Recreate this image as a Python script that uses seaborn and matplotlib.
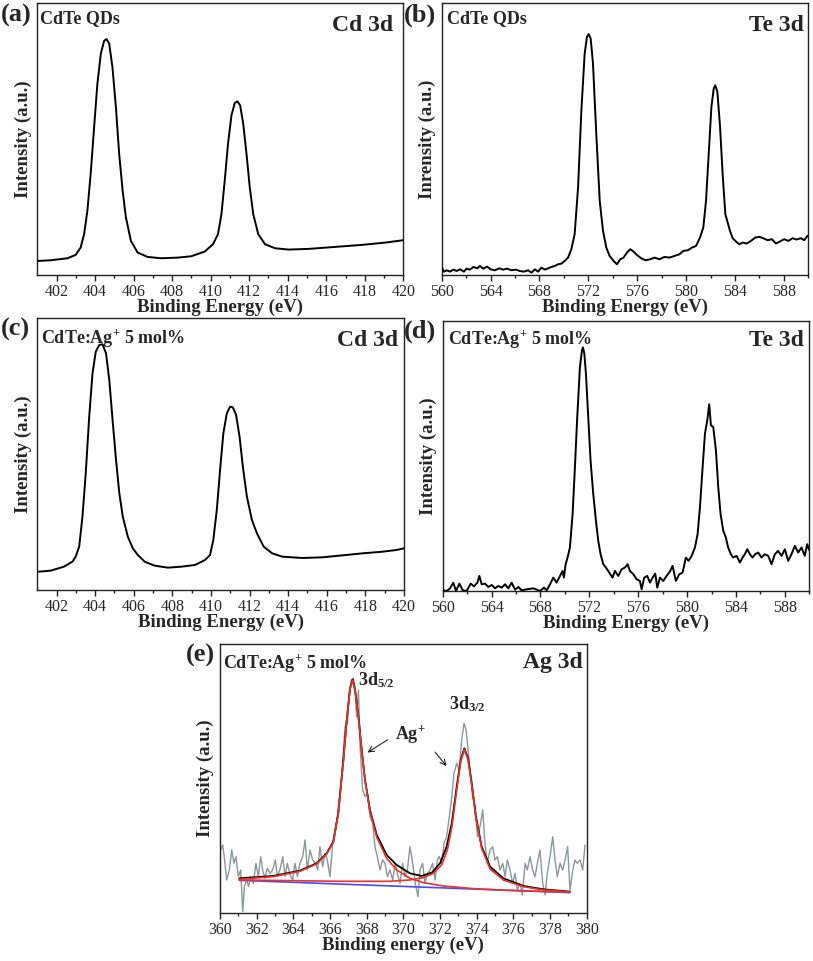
import numpy as np
import pandas as pd
import matplotlib
matplotlib.use("Agg")
import matplotlib.pyplot as plt
import seaborn as sns

# ---------------- data ----------------
# (a) CdTe QDs, Cd 3d
a_x = [401.03, 401.69, 402.56, 402.99, 403.25, 403.43, 403.60, 403.77, 403.95, 404.12,
       404.30, 404.47, 404.59, 404.73, 404.90, 405.08, 405.25, 405.43, 405.60, 405.86,
       406.21, 406.73, 407.43, 408.30, 408.99, 409.69, 410.12, 410.38, 410.56, 410.73,
       410.90, 411.08, 411.25, 411.39, 411.53, 411.69, 411.86, 412.03, 412.21, 412.47,
       412.82, 413.34, 414.03, 415.08, 416.47, 417.86, 419.08, 420.0]
a_y = [42, 44, 50, 60, 82, 122, 192, 302, 442, 572,
       662, 700, 705, 692, 622, 502, 362, 252, 172, 102,
       67, 54, 50, 52, 56, 70, 92, 122, 182, 282,
       392, 477, 514, 519, 507, 452, 362, 262, 182, 122,
       92, 80, 76, 78, 84, 90, 97, 104]

# (b) CdTe QDs, Te 3d
b_x = [560.00, 560.19, 560.41, 560.68, 560.95, 561.22, 561.50, 561.82, 562.04, 562.31,
       562.59, 562.91, 563.13, 563.40, 563.73, 564.00, 564.35, 564.71, 565.03, 565.36,
       565.71, 566.07, 566.39, 566.72, 567.07, 567.35, 567.62, 567.89, 568.16, 568.44,
       568.71, 568.98, 569.25, 569.52, 569.80, 570.07, 570.34, 570.61, 570.88, 571.16,
       571.43, 571.70, 571.89, 572.03, 572.19, 572.38, 572.65, 572.93, 573.20, 573.47,
       573.74, 574.07, 574.34, 574.61, 574.88, 575.16, 575.43, 575.70, 575.97, 576.33,
       576.68, 577.06, 577.41, 577.82, 578.23, 578.64, 579.05, 579.46, 579.78, 580.14,
       580.49, 580.82, 581.14, 581.41, 581.63, 581.85, 582.07, 582.26, 582.39, 582.56,
       582.78, 582.99, 583.21, 583.40, 583.59, 583.81, 584.08, 584.35, 584.63, 584.95,
       585.31, 585.66, 585.99, 586.31, 586.67, 587.02, 587.35, 587.67, 588.03, 588.38,
       588.71, 589.03, 589.39, 589.66, 589.93]
b_y = [22, 10, 14, 10, 16, 12, 17, 10, 19, 16,
       24, 20, 27, 19, 25, 17, 14, 20, 16, 19,
       14, 16, 12, 10, 14, 7, 17, 10, 22, 16,
       20, 24, 27, 32, 34, 42, 52, 77, 122, 262,
       492, 662, 712, 720, 707, 632, 422, 222, 132, 82,
       57, 42, 32, 47, 52, 67, 77, 70, 60, 50,
       44, 47, 52, 47, 54, 52, 57, 62, 72, 74,
       82, 87, 112, 142, 222, 362, 502, 557, 567, 547,
       442, 302, 182, 157, 132, 110, 100, 92, 97, 94,
       102, 112, 114, 110, 104, 107, 94, 100, 107, 102,
       110, 106, 110, 104, 117]

# (c) CdTe:Ag+ 5 mol%, Cd 3d
c_x = [401.08, 401.69, 402.38, 402.82, 402.99, 403.17, 403.34, 403.51, 403.69, 403.86,
       404.03, 404.21, 404.38, 404.56, 404.73, 404.90, 405.08, 405.25, 405.43, 405.69,
       405.95, 406.21, 406.56, 407.08, 407.77, 408.47, 409.17, 409.69, 409.95, 410.12,
       410.30, 410.47, 410.64, 410.82, 410.99, 411.13, 411.30, 411.48, 411.65, 411.86,
       412.12, 412.38, 412.73, 413.17, 413.69, 414.73, 415.77, 416.82, 417.86, 418.90,
       419.60, 420.0]
c_y = [55, 58, 70, 85, 100, 130, 220, 350, 520, 650,
       715, 735, 737, 710, 630, 510, 390, 290, 220, 160,
       125, 105, 85, 73, 67, 70, 75, 90, 105, 150,
       240, 360, 470, 530, 550, 548, 525, 460, 370, 280,
       210, 170, 130, 110, 100, 96, 98, 104, 110, 115,
       120, 125]

# (d) CdTe:Ag+ 5 mol%, Te 3d
d_x = [560.05, 560.33, 560.60, 560.87, 561.09, 561.36, 561.64, 561.96, 562.29, 562.56,
       562.84, 563.00, 563.19, 563.46, 563.74, 564.01, 564.28, 564.55, 564.83, 565.10,
       565.37, 565.64, 565.92, 566.19, 566.46, 566.87, 567.42, 567.96, 568.29, 568.51,
       568.78, 569.05, 569.32, 569.60, 569.81, 569.92, 570.06, 570.22, 570.41, 570.63,
       570.82, 571.01, 571.23, 571.40, 571.48, 571.59, 571.72, 571.91, 572.10, 572.32,
       572.54, 572.73, 572.92, 573.14, 573.36, 573.63, 573.90, 574.09, 574.37, 574.64,
       574.91, 575.13, 575.32, 575.60, 575.87, 576.14, 576.28, 576.49, 576.74, 576.96,
       577.18, 577.39, 577.56, 577.78, 578.05, 578.32, 578.59, 578.81, 579.08, 579.36,
       579.63, 579.90, 580.12, 580.37, 580.64, 580.86, 581.05, 581.27, 581.46, 581.65,
       581.81, 581.95, 582.14, 582.36, 582.55, 582.74, 582.96, 583.17, 583.36, 583.58,
       583.77, 584.05, 584.32, 584.54, 584.73, 584.92, 585.14, 585.35, 585.57, 585.82,
       586.09, 586.36, 586.64, 586.91, 587.18, 587.45, 587.73, 588.00, 588.27, 588.54,
       588.82, 589.09, 589.36, 589.63, 589.83, 590.0]
d_y = [2, 0, 8, 25, 0, 22, 2, 0, 22, 14,
       25, 45, 20, 22, 12, 18, 8, 15, 10, 20,
       8, 25, 4, 12, 2, 5, 8, 0, 10, 2,
       20, 40, 25, 45, 60, 40, 80, 100, 130, 230,
       370, 520, 670, 720, 728, 710, 650, 520, 390, 290,
       210, 150, 110, 80, 70, 55, 40, 60, 45, 65,
       70, 80, 60, 50, 35, 30, 5, 40, 45, 25,
       40, 52, 10, 40, 30, 45, 58, 75, 30, 50,
       55, 100, 90, 105, 130, 170, 250, 370, 470, 510,
       558, 495, 490, 420, 310, 230, 180, 160, 130, 110,
       100, 105, 85, 100, 110, 125, 110, 100, 110, 115,
       100, 110, 105, 80, 110, 120, 105, 125, 90, 110,
       135, 115, 130, 105, 140, 122]

# (e) CdTe:Ag+ 5 mol%, Ag 3d : raw data
e_x = [360.04, 360.15, 360.27, 360.36, 360.51, 360.64, 360.76, 360.87, 361.00, 361.13,
       361.24, 361.33, 361.45, 361.56, 361.67, 361.82, 361.96, 362.09, 362.22, 362.33,
       362.45, 362.58, 362.73, 362.87, 363.02, 363.13, 363.27, 363.42, 363.55, 363.67,
       363.82, 363.96, 364.09, 364.22, 364.36, 364.51, 364.64, 364.76, 364.91, 365.05,
       365.20, 365.33, 365.45, 365.60, 365.73, 365.85, 366.00, 366.15, 366.27, 366.40,
       366.55, 366.69, 366.82, 366.95, 367.05, 367.16, 367.27, 367.36, 367.45, 367.55,
       367.64, 367.78, 367.91, 368.04, 368.18, 368.33, 368.45, 368.58, 368.73, 368.87,
       369.00, 369.13, 369.27, 369.42, 369.55, 369.67, 369.82, 369.96, 370.09, 370.22,
       370.36, 370.51, 370.65, 370.80, 370.91, 371.05, 371.18, 371.31, 371.45, 371.60,
       371.73, 371.85, 371.96, 372.09, 372.22, 372.36, 372.51, 372.64, 372.76, 372.91,
       373.05, 373.18, 373.31, 373.42, 373.55, 373.67, 373.78, 373.91, 374.04, 374.18,
       374.33, 374.45, 374.58, 374.73, 374.87, 375.00, 375.13, 375.27, 375.42, 375.55,
       375.67, 375.82, 375.96, 376.09, 376.22, 376.36, 376.49, 376.64, 376.76, 376.91,
       377.05, 377.18, 377.31, 377.45, 377.60, 377.73, 377.85, 378.00, 378.15, 378.27,
       378.40, 378.55, 378.69, 378.82, 378.96, 379.09, 379.24, 379.36, 379.49, 379.64,
       379.78, 379.91]
e_y = [190, 205, 150, 100, 130, 190, 150, 170, 110, 130,
       5, 80, 100, 80, 110, 90, 150, 110, 170, 130,
       105, 135, 120, 130, 160, 110, 130, 170, 110, 150,
       115, 100, 150, 110, 150, 170, 220, 130, 190, 160,
       150, 130, 200, 140, 180, 160, 110, 210, 250, 290,
       370, 450, 560, 570, 650, 700, 705, 680, 590, 670,
       500, 370, 350, 360, 290, 270, 200, 170, 130, 160,
       150, 110, 130, 100, 150, 120, 90, 150, 110, 130,
       200, 150, 90, 50, 130, 150, 90, 120, 130, 150,
       100, 160, 170, 150, 210, 230, 290, 350, 420, 450,
       430, 520, 570, 550, 480, 410, 350, 320, 230, 260,
       310, 210, 150, 190, 200, 160, 170, 130, 150, 110,
       160, 130, 90, 120, 70, 90, 55, 150, 130, 170,
       130, 110, 150, 190, 90, 55, 120, 170, 230, 160,
       110, 150, 130, 160, 200, 70, 130, 160, 150, 160,
       130, 205]

# (e) fitted envelope (black)
fit_x = [361.05, 362.91, 364.36, 365.27, 365.82, 366.18, 366.45, 366.73, 366.91, 367.09,
         367.24, 367.38, 367.55, 367.73, 367.91, 368.18, 368.55, 369.09, 369.64, 370.36,
         371.00, 371.55, 372.00, 372.36, 372.64, 372.91, 373.13, 373.33, 373.53, 373.73,
         373.96, 374.27, 374.73, 375.45, 376.55, 377.64, 379.09]
fit_y = [105, 112, 128, 150, 180, 215, 300, 460, 580, 675,
         702, 665, 590, 490, 400, 310, 235, 175, 145, 120,
         112, 122, 150, 200, 270, 380, 460, 495, 465, 390,
         290, 200, 140, 105, 82, 72, 65]

# (e) component Ag+ 3d5/2 (red)
p1_x = [361.05, 362.91, 364.36, 365.27, 365.82, 366.18, 366.45, 366.73, 366.91, 367.09,
        367.24, 367.38, 367.55, 367.73, 367.91, 368.18, 368.55, 369.09, 369.64, 370.36,
        371.09, 372.18, 373.82, 375.64, 377.45, 379.09]
p1_y = [102, 110, 126, 148, 178, 213, 298, 458, 578, 673,
        700, 663, 588, 488, 398, 306, 228, 165, 130, 105,
        92, 82, 74, 69, 66, 64]

# (e) component Ag+ 3d3/2 (red)
p2_x = [361.05, 363.82, 366.55, 369.27, 370.36, 371.09, 371.64, 372.09, 372.40, 372.65,
        372.91, 373.13, 373.33, 373.53, 373.73, 373.96, 374.27, 374.73, 375.45, 376.55,
        377.64, 379.09]
p2_y = [100, 98, 96, 96, 100, 107, 120, 145, 190, 260,
        370, 455, 492, 460, 385, 285, 195, 133, 100, 80,
        70, 64]

# (e) background (blue)
bg_x = [361.05, 379.09]
bg_y = [99, 62]

a_ticks = [402, 404, 406, 408, 410, 412, 414, 416, 418, 420]
b_ticks = [560, 564, 568, 572, 576, 580, 584, 588]
e_ticks = [360, 362, 364, 366, 368, 370, 372, 374, 376, 378, 380]

# ---------------- style ----------------
sns.set_style("ticks")
plt.rcParams['font.family'] = ['Liberation Serif', 'DejaVu Serif']
plt.rcParams['mathtext.fontset'] = 'custom'
plt.rcParams['mathtext.rm'] = 'Liberation Serif:bold'
plt.rcParams['mathtext.bf'] = 'Liberation Serif:bold'
plt.rcParams['mathtext.it'] = 'Liberation Serif:bold'
plt.rcParams['mathtext.default'] = 'rm'

W, H = 813, 961
fig = plt.figure(figsize=(W / 100, H / 100), dpi=100)


def box(l, t, r, b):
    return [l / W, 1 - b / H, (r - l) / W, (b - t) / H]


def style_axes(ax, xlim, ticks, minor, ylim, xlabel, ylabel):
    ax.set_xlim(*xlim)
    ax.set_ylim(*ylim)
    ax.set_xticks(ticks)
    ax.set_xticks(minor, minor=True)
    ax.set_yticks([])
    ax.tick_params(axis='x', which='major', direction='out', length=4, width=1,
                   labelsize=11.5, pad=2.5, color='#222222')
    ax.tick_params(axis='x', which='minor', direction='out', length=2.2, width=1,
                   color='#222222')
    for s in ax.spines.values():
        s.set_linewidth(1.0)
        s.set_color('#222222')
    ax.set_xlabel(xlabel, fontsize=13.5, fontweight='bold', labelpad=-1)
    ax.set_ylabel(ylabel, fontsize=13.5, fontweight='bold', labelpad=4)
    ax.set_facecolor('white')


def line(ax, x, y, color='black', lw=1.4, z=3):
    df = pd.DataFrame({'x': x, 'y': y})
    sns.lineplot(data=df, x='x', y='y', ax=ax, color=color, linewidth=lw,
                 estimator=None, sort=False, zorder=z, legend=False)


axa = fig.add_axes(box(37.3, 3.3, 403.3, 275))
axb = fig.add_axes(box(441.7, 3.3, 808.3, 275))
axc = fig.add_axes(box(37.3, 318.3, 404, 590))
axd = fig.add_axes(box(442.7, 320.7, 809.3, 591))
axe = fig.add_axes(box(220, 644, 586.7, 913.3))

line(axa, a_x, a_y)
line(axb, b_x, b_y)
line(axc, c_x, c_y)
line(axd, d_x, d_y)

line(axe, e_x, e_y, color='#8c9898', lw=1.0, z=2)
line(axe, bg_x, bg_y, color='#4a4aff', lw=1.2, z=3)
line(axe, fit_x, fit_y, color='black', lw=1.3, z=4)
line(axe, p1_x, p1_y, color='#e8322c', lw=1.2, z=5)
line(axe, p2_x, p2_y, color='#e8322c', lw=1.2, z=5)

cd_minor = [403, 405, 407, 409, 411, 413, 415, 417, 419]
te_minor = [562, 566, 570, 574, 578, 582, 586, 590]
ag_minor = [361, 363, 365, 367, 369, 371, 373, 375, 377, 379]

style_axes(axa, (401, 420), a_ticks, cd_minor, (0, 812), 'Binding Energy (eV)', 'Intensity (a.u.)')
style_axes(axb, (560, 590), b_ticks, te_minor, (0, 812), 'Binding Energy (eV)', 'Inrensity (a.u.)')
style_axes(axc, (401, 420), a_ticks, cd_minor, (0, 815), 'Binding Energy (eV)', 'Intensity (a.u.)')
style_axes(axd, (560, 590), b_ticks, te_minor, (0, 808), 'Binding Energy (eV)', 'Intensity (a.u.)')
style_axes(axe, (360, 380), e_ticks, ag_minor, (0, 808), 'Binding energy (eV)', 'Intensity (a.u.)')

sample1 = 'CdTe QDs'
sample2 = r'CdTe:Ag$^{+}$ 5 mol%'
for ax, s, lx, ly, el, rx, ry in [
        (axa, sample1, 0.008, 0.975, 'Cd 3d', 0.973, 0.958),
        (axb, sample1, 0.014, 0.975, 'Te 3d', 0.988, 0.958),
        (axc, sample2, 0.009, 0.969, 'Cd 3d', 0.984, 0.957),
        (axd, sample2, 0.0145, 0.972, 'Te 3d', 0.986, 0.966),
        (axe, sample2, 0.008, 0.972, 'Ag 3d', 0.990, 0.970)]:
    ax.text(lx, ly, s, transform=ax.transAxes, ha='left', va='top',
            fontsize=13, fontweight='bold')
    ax.text(rx, ry, el, transform=ax.transAxes, ha='right', va='top',
            fontsize=17, fontweight='bold')

for lab, px, py in [('(a)', 1, 4), ('(b)', 404, 4), ('(c)', 1, 318),
                    ('(d)', 404, 320), ('(e)', 186, 644)]:
    fig.text(px / W, 1 - py / H, lab, ha='left', va='top', fontsize=19,
             fontweight='bold')

# annotations in (e)
axe.text(367.55, 700, r'3d$_{5/2}$', ha='left', va='center', fontsize=13, fontweight='bold')
axe.text(372.5, 628, r'3d$_{3/2}$', ha='left', va='center', fontsize=13, fontweight='bold')
axe.text(370.36, 538, r'Ag$^{+}$', ha='center', va='center', fontsize=13, fontweight='bold')
axe.annotate('', xy=(367.91, 478), xytext=(369.27, 525),
             arrowprops=dict(arrowstyle='->', color='#222222', lw=0.8))
axe.annotate('', xy=(372.45, 435), xytext=(371.64, 490),
             arrowprops=dict(arrowstyle='->', color='#222222', lw=0.8))

fig.savefig('out.png', dpi=100, facecolor='white')
